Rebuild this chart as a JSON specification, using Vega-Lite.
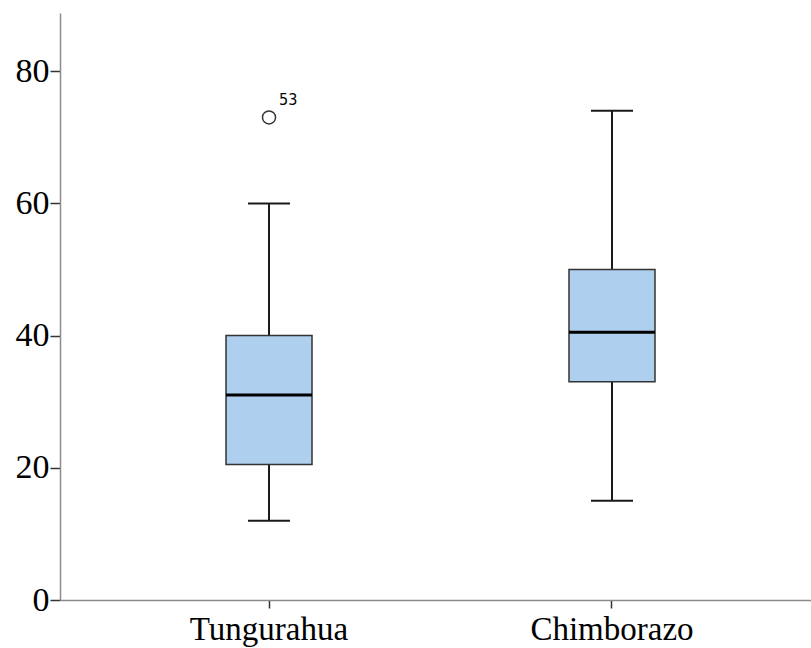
{
  "$schema": "https://vega.github.io/schema/vega-lite/v6.json",
  "autosize": {"type": "none"},
  "padding": {"left": 60, "top": 13, "right": 0, "bottom": 48},
  "width": 751,
  "height": 587,
  "config": {"view": {"stroke": null}, "axis": {"grid": false}},
  "datasets": {
    "boxes": [
      {"region": "Tungurahua", "low": 12, "q1": 20.5, "median": 31, "q3": 40, "high": 60},
      {"region": "Chimborazo", "low": 15, "q1": 33, "median": 40.5, "q3": 50, "high": 74}
    ],
    "outliers": [
      {"region": "Tungurahua", "value": 73, "case": "53"}
    ]
  },
  "encoding": {
    "x": {
      "field": "region", "type": "nominal",
      "sort": ["Tungurahua", "Chimborazo"],
      "scale": {"paddingInner": 0, "paddingOuter": 0.0948, "align": 0.577},
      "axis": {
        "title": null, "labelAngle": 0,
        "labelFont": "Liberation Serif", "labelFontSize": 33, "labelColor": "#000000",
        "domainColor": "#8c8c8c", "domainWidth": 1.5,
        "tickColor": "#333333", "tickSize": 8, "tickWidth": 1.5, "labelPadding": 5
      }
    }
  },
  "layer": [
    {
      "data": {"name": "boxes"},
      "mark": {"type": "rule", "color": "#1a1a1a", "strokeWidth": 2},
      "encoding": {
        "y": {"field": "low", "type": "quantitative",
          "scale": {"domain": [0, 88.8], "nice": false, "zero": true},
          "axis": {
            "title": null, "values": [0, 20, 40, 60, 80],
            "labelFont": "Liberation Serif", "labelFontSize": 34, "labelColor": "#000000",
            "domainColor": "#8c8c8c", "domainWidth": 1.5,
            "tickColor": "#333333", "tickSize": 10, "tickWidth": 1.5, "labelPadding": 1
          }
        },
        "y2": {"field": "high"}
      }
    },
    {
      "data": {"name": "boxes"},
      "mark": {"type": "bar", "size": 86, "fill": "#aecfee", "stroke": "#333333", "strokeWidth": 1.5},
      "encoding": {
        "y": {"field": "q1", "type": "quantitative"},
        "y2": {"field": "q3"}
      }
    },
    {
      "data": {"name": "boxes"},
      "mark": {"type": "tick", "size": 86, "thickness": 3, "color": "#000000", "opacity": 1},
      "encoding": {"y": {"field": "median", "type": "quantitative"}}
    },
    {
      "data": {"name": "boxes"},
      "mark": {"type": "tick", "size": 42, "thickness": 2, "color": "#1a1a1a", "opacity": 1},
      "encoding": {"y": {"field": "low", "type": "quantitative"}}
    },
    {
      "data": {"name": "boxes"},
      "mark": {"type": "tick", "size": 42, "thickness": 2, "color": "#1a1a1a", "opacity": 1},
      "encoding": {"y": {"field": "high", "type": "quantitative"}}
    },
    {
      "data": {"name": "outliers"},
      "mark": {"type": "point", "shape": "circle", "size": 170, "filled": false, "stroke": "#333333", "strokeWidth": 1.5, "opacity": 1},
      "encoding": {"y": {"field": "value", "type": "quantitative"}}
    },
    {
      "data": {"name": "outliers"},
      "mark": {"type": "text", "font": "DejaVu Sans Condensed, Liberation Sans, sans-serif", "fontSize": 16, "dx": 10, "dy": -17, "align": "left", "color": "#000000"},
      "encoding": {
        "y": {"field": "value", "type": "quantitative"},
        "text": {"field": "case"}
      }
    }
  ]
}
